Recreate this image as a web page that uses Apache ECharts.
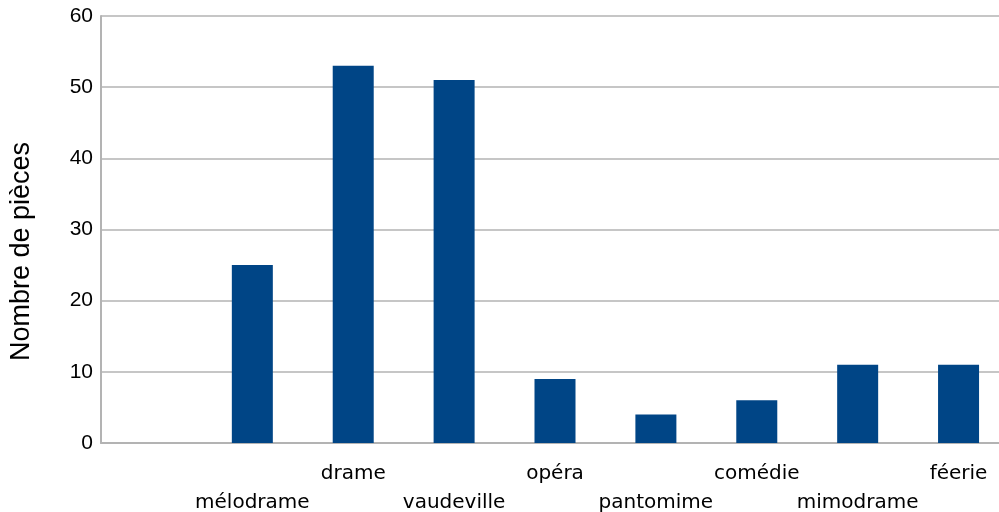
<!DOCTYPE html>
<html>
<head>
<meta charset="utf-8">
<script src="https://cdn.jsdelivr.net/npm/echarts@6/dist/echarts.min.js"></script>
<style>
html,body{margin:0;padding:0;background:#fff;}
#chart{width:999px;height:512px;}
</style>
</head>
<body>
<div id="chart"></div>
<script>
const categories = ['', 'mélodrame', 'drame', 'vaudeville', 'opéra', 'pantomime', 'comédie', 'mimodrame', 'féerie'];
const pieces = [null, 25, 53, 51, 9, 4, 6, 11, 11];
const yTicks = { min: 0, max: 60, interval: 10 };
const yTitle = 'Nombre de pièces';

const chart = echarts.init(document.getElementById('chart'));
chart.setOption({
  animation: false,
  backgroundColor: '#ffffff',
  grid: { left: 101, top: 16, height: 427, width: 908, containLabel: false, outerBoundsMode: 'none' },
  xAxis: {
    type: 'category',
    data: categories,
    axisLine: { show: true, lineStyle: { color: '#b3b3b3', width: 2 } },
    axisTick: { show: false },
    axisLabel: {
      interval: 0,
      margin: 16,
      fontFamily: 'DejaVu Sans',
      fontSize: 20,
      lineHeight: 29,
      color: '#000',
      formatter: function (v, i) { return i % 2 === 1 ? '\n' + v : v; }
    }
  },
  yAxis: {
    type: 'value',
    min: yTicks.min, max: yTicks.max, interval: yTicks.interval,
    name: yTitle,
    nameLocation: 'middle',
    nameGap: 66,
    nameTextStyle: { fontFamily: 'Liberation Sans', fontSize: 27, color: '#000', padding: [0, 44, 0, 0] },
    axisLine: { show: true, lineStyle: { color: '#b3b3b3', width: 2 } },
    axisTick: { show: false },
    axisLabel: { margin: 8, fontFamily: 'Liberation Sans', fontSize: 21, color: '#000' },
    splitLine: { show: true, lineStyle: { color: '#b3b3b3', width: 1.5 } }
  },
  series: [{
    type: 'bar',
    data: pieces,
    barWidth: 41,
    itemStyle: { color: '#004586' }
  }]
});
</script>
</body>
</html>
